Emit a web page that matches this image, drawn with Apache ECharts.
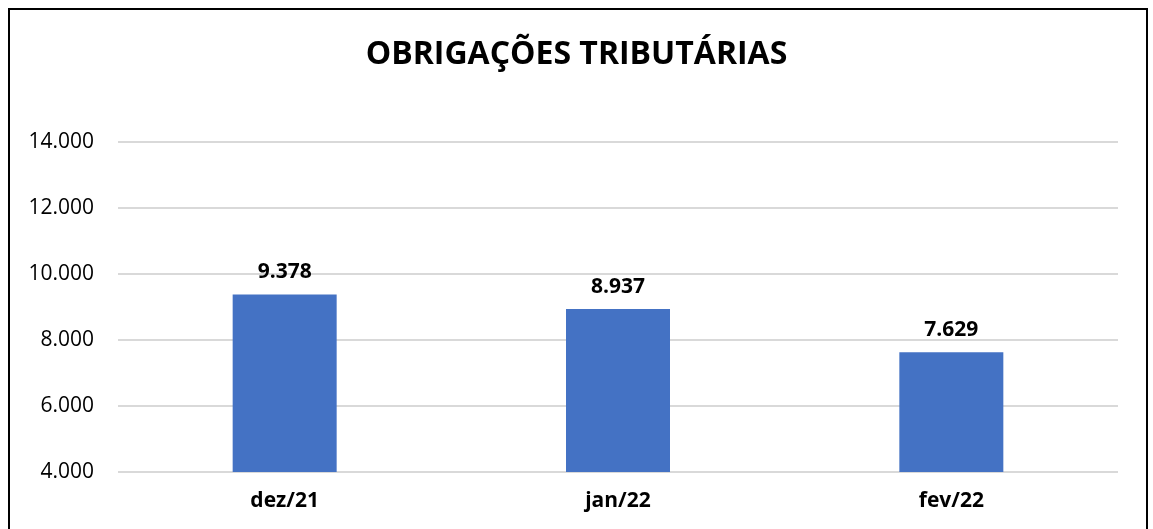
<!DOCTYPE html>
<html>
<head>
<meta charset="utf-8">
<script src="https://cdn.jsdelivr.net/npm/echarts@6/dist/echarts.min.js"></script>
<style>
  html, body { margin: 0; padding: 0; background: #fff; overflow: hidden; }
  #chart { width: 1153px; height: 529px; }
  #frame { position: absolute; left: 8px; top: 8px; width: 1136px; height: 600px;
           border: 2px solid #000; pointer-events: none; }
</style>
</head>
<body>
<div id="chart"></div>
<div id="frame"></div>
<script>
var categories = ['dez/21', 'jan/22', 'fev/22'];
var values = [9378, 8937, 7629];
var yMin = 4000, yMax = 14000, yStep = 2000;

function fmt(v) {
    return String(v).replace(/\B(?=(\d{3})+(?!\d))/g, '.');
}

var myChart = echarts.init(document.getElementById('chart'));
var option = {
    animation: false,
    title: {
        text: 'OBRIGAÇÕES TRIBUTÁRIAS',
        left: 'center',
        top: 34,
        padding: [5, 5, 5, 30],
        textStyle: {
            color: '#000',
            fontWeight: 'bold',
            fontFamily: 'Open Sans',
            fontSize: 32
        }
    },
    grid: { left: 118, right: 35, top: 142, bottom: 57 },
    xAxis: {
        type: 'category',
        data: categories,
        axisLine: { show: false },
        axisTick: { show: false },
        axisLabel: {
            margin: 19,
            color: '#000',
            fontWeight: 'bold',
            fontFamily: 'Open Sans',
            fontSize: 21
        }
    },
    yAxis: {
        type: 'value',
        min: yMin,
        max: yMax,
        interval: yStep,
        axisLine: { show: false },
        axisTick: { show: false },
        splitLine: { lineStyle: { color: '#d9d9d9', width: 2 } },
        axisLabel: {
            margin: 24,
            color: '#000',
            fontFamily: 'Open Sans',
            fontSize: 21,
            formatter: fmt
        }
    },
    series: [{
        type: 'bar',
        data: values,
        barWidth: 104,
        itemStyle: { color: '#4472c4' },
        label: {
            show: true,
            position: 'top',
            distance: 12,
            color: '#000',
            fontWeight: 'bold',
            fontFamily: 'Open Sans',
            fontSize: 21,
            formatter: function (p) { return fmt(p.value); }
        }
    }]
};
myChart.setOption(option);
</script>
</body>
</html>
